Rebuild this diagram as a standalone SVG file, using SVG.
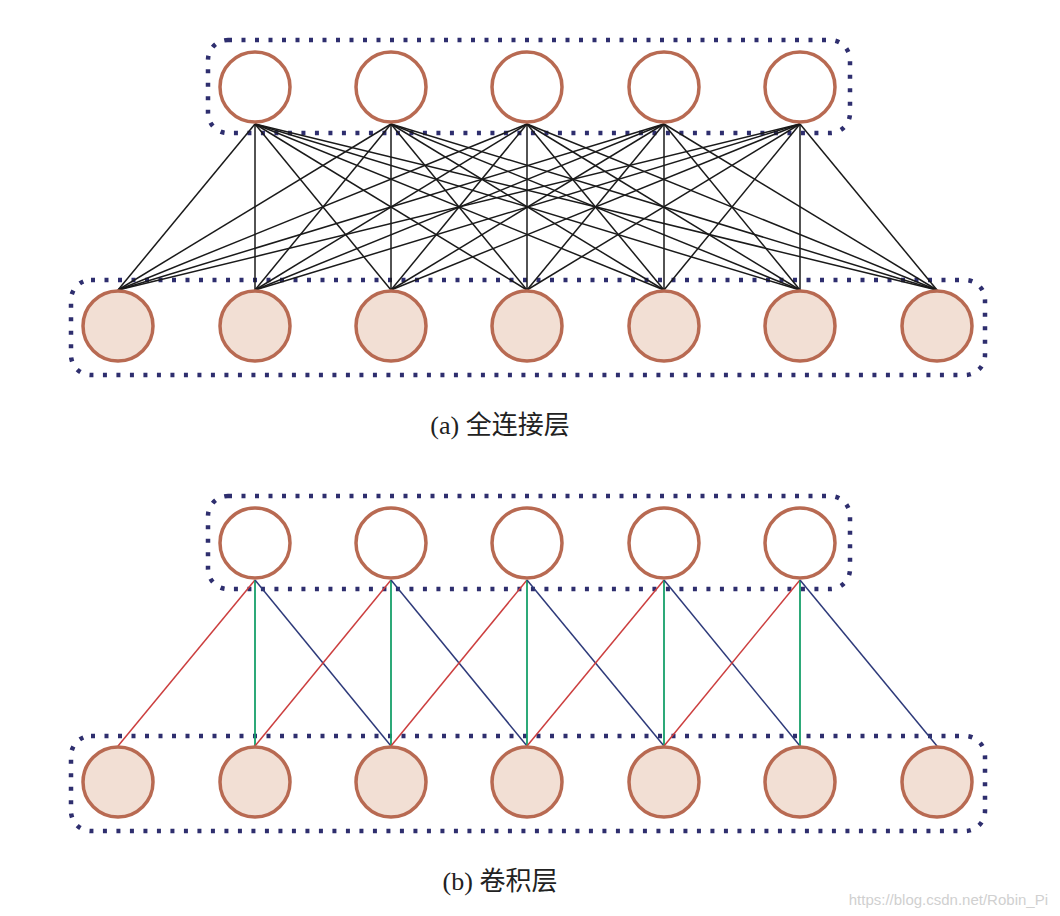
<svg xmlns="http://www.w3.org/2000/svg" width="1060" height="916" viewBox="0 0 1060 916">
<style>
.box{fill:none;stroke:#2e2e6e;stroke-width:4.5;stroke-dasharray:4 9.5}
.top{fill:#fff;stroke:#b86a52;stroke-width:3.5}
.bot{fill:#f2dfd4;stroke:#b86a52;stroke-width:3.5}
.fc line{stroke:#1a1a1a;stroke-width:1.5}
.r{stroke:#cc3f3f;stroke-width:1.5}
.g{stroke:#17a06a;stroke-width:1.8}
.b{stroke:#2e3a7a;stroke-width:1.5}
.cap{font-family:"Liberation Serif","Noto Sans CJK SC",serif;font-size:26px;fill:#222}
</style>
<rect class="box" x="208" y="40" width="642" height="93" rx="20"/>
<rect class="box" x="71" y="280" width="914" height="95" rx="20"/>
<rect class="box" x="208" y="496" width="642" height="93" rx="20"/>
<rect class="box" x="71" y="736" width="914" height="95" rx="20"/>
<g id="connectors">
<g class="fc">
<line x1="255" y1="124" x2="118" y2="290"/><line x1="255" y1="124" x2="255" y2="290"/><line x1="255" y1="124" x2="391" y2="290"/><line x1="255" y1="124" x2="527" y2="290"/><line x1="255" y1="124" x2="664" y2="290"/><line x1="255" y1="124" x2="800" y2="290"/><line x1="255" y1="124" x2="937" y2="290"/>
<line x1="391" y1="124" x2="118" y2="290"/><line x1="391" y1="124" x2="255" y2="290"/><line x1="391" y1="124" x2="391" y2="290"/><line x1="391" y1="124" x2="527" y2="290"/><line x1="391" y1="124" x2="664" y2="290"/><line x1="391" y1="124" x2="800" y2="290"/><line x1="391" y1="124" x2="937" y2="290"/>
<line x1="527" y1="124" x2="118" y2="290"/><line x1="527" y1="124" x2="255" y2="290"/><line x1="527" y1="124" x2="391" y2="290"/><line x1="527" y1="124" x2="527" y2="290"/><line x1="527" y1="124" x2="664" y2="290"/><line x1="527" y1="124" x2="800" y2="290"/><line x1="527" y1="124" x2="937" y2="290"/>
<line x1="664" y1="124" x2="118" y2="290"/><line x1="664" y1="124" x2="255" y2="290"/><line x1="664" y1="124" x2="391" y2="290"/><line x1="664" y1="124" x2="527" y2="290"/><line x1="664" y1="124" x2="664" y2="290"/><line x1="664" y1="124" x2="800" y2="290"/><line x1="664" y1="124" x2="937" y2="290"/>
<line x1="800" y1="124" x2="118" y2="290"/><line x1="800" y1="124" x2="255" y2="290"/><line x1="800" y1="124" x2="391" y2="290"/><line x1="800" y1="124" x2="527" y2="290"/><line x1="800" y1="124" x2="664" y2="290"/><line x1="800" y1="124" x2="800" y2="290"/><line x1="800" y1="124" x2="937" y2="290"/>
</g>
<g>
<line class="r" x1="255" y1="580" x2="118" y2="746"/><line class="g" x1="255" y1="580" x2="255" y2="746"/><line class="b" x1="255" y1="580" x2="391" y2="746"/>
<line class="r" x1="391" y1="580" x2="255" y2="746"/><line class="g" x1="391" y1="580" x2="391" y2="746"/><line class="b" x1="391" y1="580" x2="527" y2="746"/>
<line class="r" x1="527" y1="580" x2="391" y2="746"/><line class="g" x1="527" y1="580" x2="527" y2="746"/><line class="b" x1="527" y1="580" x2="664" y2="746"/>
<line class="r" x1="664" y1="580" x2="527" y2="746"/><line class="g" x1="664" y1="580" x2="664" y2="746"/><line class="b" x1="664" y1="580" x2="800" y2="746"/>
<line class="r" x1="800" y1="580" x2="664" y2="746"/><line class="g" x1="800" y1="580" x2="800" y2="746"/><line class="b" x1="800" y1="580" x2="937" y2="746"/>
</g>
</g>
<g id="a-top"><circle id="at1" class="top" cx="255" cy="87" r="35"/><circle id="at2" class="top" cx="391" cy="87" r="35"/><circle id="at3" class="top" cx="527" cy="87" r="35"/><circle id="at4" class="top" cx="664" cy="87" r="35"/><circle id="at5" class="top" cx="800" cy="87" r="35"/></g>
<g id="a-bot"><circle id="ab1" class="bot" cx="118" cy="326" r="35"/><circle id="ab2" class="bot" cx="255" cy="326" r="35"/><circle id="ab3" class="bot" cx="391" cy="326" r="35"/><circle id="ab4" class="bot" cx="527" cy="326" r="35"/><circle id="ab5" class="bot" cx="664" cy="326" r="35"/><circle id="ab6" class="bot" cx="800" cy="326" r="35"/><circle id="ab7" class="bot" cx="937" cy="326" r="35"/></g>
<g id="b-top"><circle id="bt1" class="top" cx="255" cy="543" r="35"/><circle id="bt2" class="top" cx="391" cy="543" r="35"/><circle id="bt3" class="top" cx="527" cy="543" r="35"/><circle id="bt4" class="top" cx="664" cy="543" r="35"/><circle id="bt5" class="top" cx="800" cy="543" r="35"/></g>
<g id="b-bot"><circle id="bb1" class="bot" cx="118" cy="782" r="35"/><circle id="bb2" class="bot" cx="255" cy="782" r="35"/><circle id="bb3" class="bot" cx="391" cy="782" r="35"/><circle id="bb4" class="bot" cx="527" cy="782" r="35"/><circle id="bb5" class="bot" cx="664" cy="782" r="35"/><circle id="bb6" class="bot" cx="800" cy="782" r="35"/><circle id="bb7" class="bot" cx="937" cy="782" r="35"/></g>
<text class="cap" x="500" y="434" text-anchor="middle">(a) 全连接层</text>
<text class="cap" x="500" y="890" text-anchor="middle">(b) 卷积层</text>
<text x="1048" y="905" text-anchor="end" font-family="Liberation Sans,Arial,sans-serif" font-size="15" fill="#d0d0d0">https://blog.csdn.net/Robin_Pi</text>
</svg>
